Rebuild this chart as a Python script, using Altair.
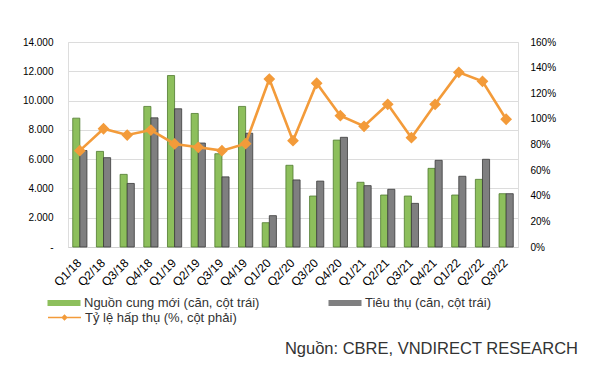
import altair as alt
import pandas as pd

quarters = ["Q1/18", "Q2/18", "Q3/18", "Q4/18", "Q1/19", "Q2/19", "Q3/19", "Q4/19",
            "Q1/20", "Q2/20", "Q3/20", "Q4/20", "Q1/21", "Q2/21", "Q3/21", "Q4/21",
            "Q1/22", "Q2/22", "Q3/22"]
supply = [8800, 6530, 4960, 9600, 11710, 9120, 6370, 9600, 1660, 5580,
          3480, 7300, 4420, 3550, 3480, 5370, 3550, 4620, 3640]
absorbed = [6590, 6100, 4340, 8820, 9440, 7100, 4790, 7770, 2140, 4580,
            4500, 7490, 4190, 3940, 2980, 5920, 4830, 5990, 3640]
rate = [75.2, 92.3, 87.4, 91.3, 80.4, 77.8, 75.2, 80.6, 131.1, 83.0,
        127.8, 102.5, 94.2, 111.4, 85.3, 111.4, 136.3, 129.3, 99.7]

s_supply = "Nguồn cung mới (căn, cột trái)"
s_abs = "Tiêu thụ (căn, cột trái)"
s_rate = "Tỷ lệ hấp thụ (%, cột phải)"
source = "Nguồn: CBRE, VNDIRECT RESEARCH"

GREEN = "#8dbf5c"
GREY = "#7f7f80"
ORANGE = "#f39b3a"
FONT = "Liberation Sans"

rows = []
for q, a, b in zip(quarters, supply, absorbed):
    rows.append({"quarter": q, "series": s_supply, "value": a})
    rows.append({"quarter": q, "series": s_abs, "value": b})
df_bars = pd.DataFrame(rows)
df_line = pd.DataFrame({"quarter": quarters, "rate": rate, "series": s_rate})

x_enc = alt.X("quarter:N", sort=quarters, title=None,
              scale=alt.Scale(paddingInner=0.4, paddingOuter=0.2),
              axis=alt.Axis(labelAngle=-45, ticks=False, labelFontSize=12,
                            labelAlign="right", labelBaseline="top", labelOffset=-4,
                            labelPadding=10, domainColor="#d0d0d0", grid=False))

bars = alt.Chart(df_bars).mark_bar(strokeWidth=0.8).encode(
    x=x_enc,
    xOffset=alt.XOffset("series:N", sort=[s_supply, s_abs]),
    y=alt.Y("value:Q", title=None,
            scale=alt.Scale(domain=[0, 14000]),
            axis=alt.Axis(values=list(range(0, 14001, 2000)), domain=False, ticks=False,
                          labelPadding=15, gridColor="#dcdcdc",
                          labelExpr="datum.value == 0 ? '-' : replace(format(datum.value, ','), ',', '.')")),
    fill=alt.Fill("series:N", sort=[s_supply, s_abs],
                  scale=alt.Scale(domain=[s_supply, s_abs], range=[GREEN, GREY]),
                  legend=alt.Legend(title=None, orient="none", legendX=-21, legendY=244,
                                    direction="horizontal", columns=2, columnPadding=68,
                                    symbolType="M-1,-0.18H1V0.18H-1Z", symbolSize=1089,
                                    symbolStrokeWidth=0.8, labelFontSize=13, labelLimit=400,
                                    labelFont=FONT, labelColor="#333333", labelOffset=3)),
    stroke=alt.Stroke("series:N", sort=[s_supply, s_abs],
                      scale=alt.Scale(domain=[s_supply, s_abs], range=["#4f7a2e", "#3a3a3a"]),
                      legend=None),
)

line = alt.Chart(df_line).mark_line(
    strokeWidth=2.6,
    point=alt.OverlayMarkDef(shape="diamond", size=80, filled=True, color=ORANGE)
).encode(
    x=alt.X("quarter:N", sort=quarters),
    y=alt.Y("rate:Q", title=None,
            scale=alt.Scale(domain=[0, 160]),
            axis=alt.Axis(orient="right", values=list(range(0, 161, 20)), domain=False,
                          ticks=False, grid=False, labelPadding=12,
                          labelExpr="datum.value + '%'")),
    stroke=alt.Stroke("series:N",
                      scale=alt.Scale(domain=[s_rate], range=[ORANGE]),
                      legend=alt.Legend(title=None, orient="none", legendX=-21, legendY=258,
                                        symbolType="M-1,0H1M-0.13,0L0,-0.13L0.13,0L0,0.13Z",
                                        symbolSize=1089, symbolStrokeWidth=1.6,
                                        symbolFillColor=ORANGE, labelLimit=400,
                                        labelFontSize=13, labelFont=FONT,
                                        labelColor="#333333", labelOffset=3)),
)

chart = alt.layer(bars, line).resolve_scale(
    y="independent", stroke="independent"
).properties(
    width=450, height=205,
    title=alt.TitleParams(text=source, orient="bottom", anchor="end", frame="group",
                          dx=60, offset=16,
                          font=FONT, fontSize=16.5, fontWeight="normal", color="#333333"),
    autosize=alt.AutoSizeParams(type="none"),
    padding={"left": 60, "top": 34, "right": 76, "bottom": 120},
).configure_view(stroke=None).configure_axis(
    labelFont=FONT, labelColor="#404040", labelFontSize=13
).configure(background="white")

chart.save("out.html", embed_options={"renderer": "svg", "actions": False})
